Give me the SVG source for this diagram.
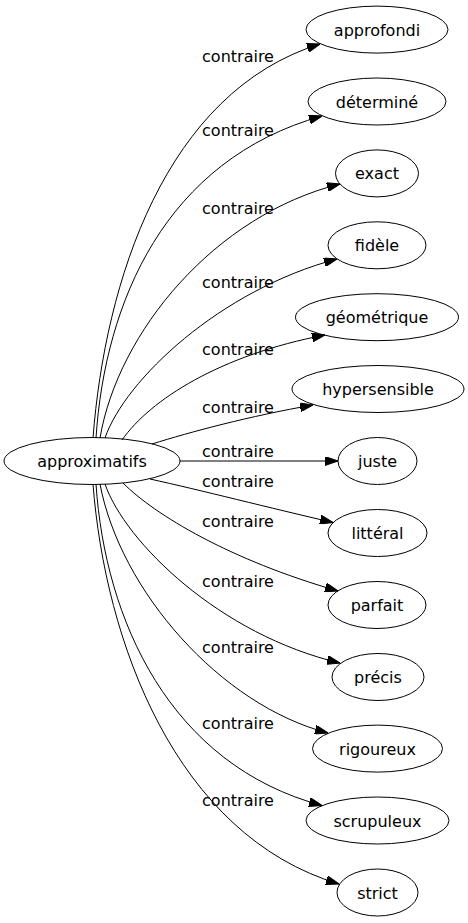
<svg xmlns="http://www.w3.org/2000/svg" width="468" height="923" viewBox="0 0 468 923">
<style>
.n ellipse{fill:none;stroke:#000;stroke-width:1}
.n text{font-family:"DejaVu Sans",sans-serif;font-size:16px;text-anchor:middle;fill:#000}
.e path{fill:none;stroke:#000;stroke-width:1;marker-end:url(#ah)}
.l{font-family:"DejaVu Sans",sans-serif;font-size:16px;text-anchor:middle;fill:#000}
</style>
<defs>
<marker id="ah" markerUnits="userSpaceOnUse" viewBox="0 0 13 9" refX="13" refY="4.5" markerWidth="13" markerHeight="9" orient="auto">
<path d="M0,0 L13,4.5 L0,9 z" fill="#000" stroke="#000" stroke-width="1"/>
</marker>
</defs>
<rect width="468" height="923" fill="#fff"/>
<g id="edges" class="e">
<path d="M93,438 C105,282 165,92 320,44"/>
<path d="M96,438 C105,302 165,160 322,116"/>
<path d="M100,438 C118,332 215,215 340,184"/>
<path d="M105,438 C125,380 220,290 337,259"/>
<path d="M122,440 C150,400 220,355 325,335"/>
<path d="M152,444 C190,432 250,416 313,405"/>
<path d="M180,461 L338,461"/>
<path d="M150,479 C200,490 270,508 333,522.5"/>
<path d="M123,483 C155,515 230,560 338,591"/>
<path d="M105,484 C125,542 220,635 340,663"/>
<path d="M100,484 C120,590 220,705 328,733"/>
<path d="M96,484 C105,620 170,765 322,805.5"/>
<path d="M93,484 C105,640 175,835 339,884"/>
</g>
<g id="labels">
<text class="l" x="238" y="62">contraire</text>
<text class="l" x="238" y="136">contraire</text>
<text class="l" x="238" y="214">contraire</text>
<text class="l" x="238" y="288">contraire</text>
<text class="l" x="238" y="355">contraire</text>
<text class="l" x="238" y="413">contraire</text>
<text class="l" x="238" y="457">contraire</text>
<text class="l" x="238" y="487">contraire</text>
<text class="l" x="238" y="526.5">contraire</text>
<text class="l" x="238" y="586.5">contraire</text>
<text class="l" x="238" y="653">contraire</text>
<text class="l" x="238" y="729">contraire</text>
<text class="l" x="238" y="805.5">contraire</text>
</g>
<g id="approximatifs" class="n"><ellipse cx="92" cy="461" rx="88" ry="23.5"/><text x="92" y="467">approximatifs</text></g>
<g id="approfondi" class="n"><ellipse cx="377" cy="29.6" rx="71" ry="23.5"/><text x="377" y="35.6">approfondi</text></g>
<g id="determine" class="n"><ellipse cx="377" cy="101.5" rx="69" ry="23.5"/><text x="377" y="107.5">déterminé</text></g>
<g id="exact" class="n"><ellipse cx="377" cy="173.4" rx="41.5" ry="23.5"/><text x="377" y="179.4">exact</text></g>
<g id="fidele" class="n"><ellipse cx="377" cy="245.3" rx="49" ry="23.5"/><text x="377" y="251.3">fidèle</text></g>
<g id="geometrique" class="n"><ellipse cx="377" cy="317.2" rx="81.5" ry="23.5"/><text x="377" y="323.2">géométrique</text></g>
<g id="hypersensible" class="n"><ellipse cx="378" cy="389" rx="86" ry="23.5"/><text x="378" y="395">hypersensible</text></g>
<g id="juste" class="n"><ellipse cx="377.5" cy="461" rx="39.5" ry="23.5"/><text x="377.5" y="467">juste</text></g>
<g id="litteral" class="n"><ellipse cx="377.5" cy="533" rx="49.5" ry="23.5"/><text x="377.5" y="539">littéral</text></g>
<g id="parfait" class="n"><ellipse cx="377" cy="605" rx="49" ry="23.5"/><text x="377" y="611">parfait</text></g>
<g id="precis" class="n"><ellipse cx="378" cy="677" rx="46" ry="23.5"/><text x="378" y="683">précis</text></g>
<g id="rigoureux" class="n"><ellipse cx="377.5" cy="748.6" rx="65" ry="23.5"/><text x="377.5" y="754.6">rigoureux</text></g>
<g id="scrupuleux" class="n"><ellipse cx="377.5" cy="820.5" rx="71.5" ry="23.5"/><text x="377.5" y="826.5">scrupuleux</text></g>
<g id="strict" class="n"><ellipse cx="377.5" cy="892.5" rx="40.5" ry="23.5"/><text x="377.5" y="898.5">strict</text></g>
</svg>
